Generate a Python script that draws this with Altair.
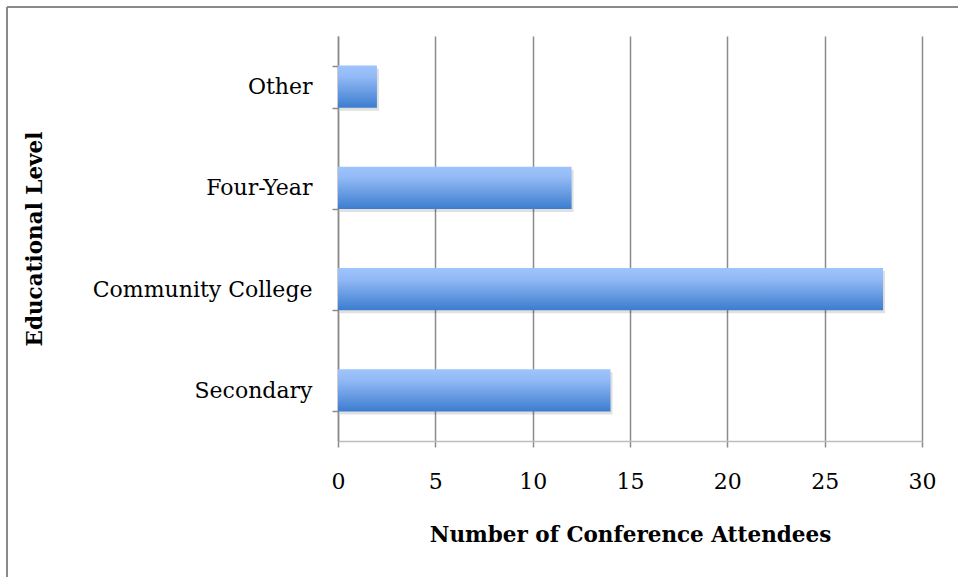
import altair as alt
import pandas as pd

categories = ["Other", "Four-Year", "Community College", "Secondary"]
attendees = [2, 12, 28, 14]
x_ticks = [0, 5, 10, 15, 20, 25, 30]

df = pd.DataFrame({"level": categories, "count": attendees})

FONT = "DejaVu Serif"
GRID = "#8c8c8c"

gradient = alt.LinearGradient(
    gradient="linear",
    stops=[
        alt.GradientStop(color="#9dc4fc", offset=0),
        alt.GradientStop(color="#93baf6", offset=0.25),
        alt.GradientStop(color="#3c7dcf", offset=1),
    ],
    x1=0, x2=0, y1=0, y2=1,
)

y_enc = alt.Y(
    "level:N",
    sort=categories,
    scale=alt.Scale(paddingInner=0.585, paddingOuter=0.2925),
    axis=alt.Axis(
        title="Educational Level",
        titleFont=FONT, titleFontSize=21.5, titleFontWeight="bold", titleColor="black",
        titleX=-303, titleBaseline="middle", titleAngle=-90,
        labelFont=FONT, labelFontSize=22, labelColor="black", labelPadding=20,
        labelLimit=0,
        tickBand="extent", tickSize=6, tickColor=GRID, tickWidth=1.5,
        domainColor=GRID, domainWidth=1.5, grid=False,
    ),
)
x_enc = alt.X(
    "count:Q",
    scale=alt.Scale(domain=[0, 30], nice=False),
    axis=alt.Axis(
        values=x_ticks, title="Number of Conference Attendees",
        titleFont=FONT, titleFontSize=21.5, titleFontWeight="bold", titleColor="black",
        titleY=94, titleBaseline="middle",
        labelFont=FONT, labelFontSize=22, labelColor="black", labelPadding=24,
        labelFlush=False,
        tickSize=6, tickColor=GRID, tickWidth=1.5,
        domainColor="#bdbdbd", domainWidth=1.5,
        grid=True, gridColor=GRID, gridWidth=1.5,
    ),
)

shadow = alt.Chart(df).mark_bar(color="#000000", opacity=0.12, xOffset=2, yOffset=3).encode(x=x_enc, y=y_enc)
bars = alt.Chart(df).mark_bar(color=gradient).encode(x=x_enc, y=y_enc)

border_left = alt.Chart(df).mark_rule(color="#8a8a8a", strokeWidth=2, clip=False).encode(
    x=alt.value(-331), y=alt.value(-29), y2=alt.value(560)
)
border_top = alt.Chart(df).mark_rule(color="#8a8a8a", strokeWidth=2, clip=False).encode(
    x=alt.value(-331), x2=alt.value(640), y=alt.value(-29)
)

chart = alt.layer(shadow, bars, border_left, border_top).properties(
    width=584, height=405,
    autosize=alt.AutoSizeParams(type="none"),
    padding={"left": 338, "top": 36, "right": 36, "bottom": 136},
    background="white",
).configure_view(stroke=None)

chart.save("out.html", embed_options={"renderer": "svg", "actions": False})
